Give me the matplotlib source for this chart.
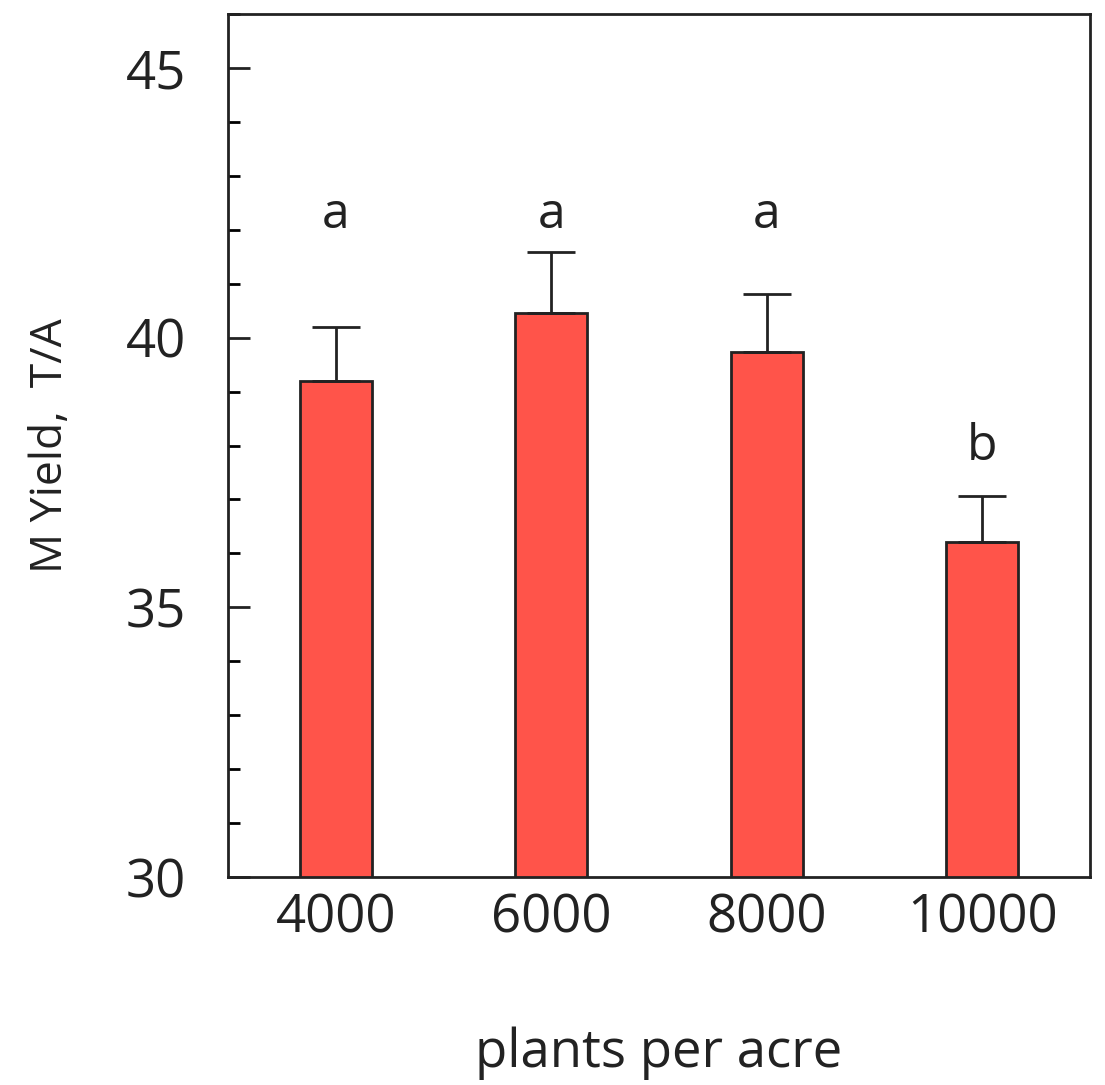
import matplotlib
matplotlib.use("Agg")
import matplotlib.pyplot as plt
import numpy as np
from matplotlib.ticker import MultipleLocator

categories = ["4000", "6000", "8000", "10000"]
means = [39.2, 40.46, 39.73, 36.21]
errors = [1.0, 1.13, 1.08, 0.85]
letters = ["a", "a", "a", "b"]
letter_y = [42.26, 42.26, 42.26, 37.97]

plt.rcParams['font.family'] = ['Open Sans', 'DejaVu Sans']

fig = plt.figure(figsize=(11.05, 10.85), dpi=100)
ax = fig.add_axes([0.2063, 0.1917, 0.7801, 0.7954])

x = np.arange(len(categories))
ax.bar(x, means, width=0.335, color="#FF544A", edgecolor="#222222",
       linewidth=2.0, zorder=2)
ax.errorbar(x, means, yerr=[np.zeros(len(errors)), errors], fmt="none",
            ecolor="#222222", elinewidth=2.0, capsize=17, capthick=2.0, zorder=3)
for xi, lab, ly in zip(x, letters, letter_y):
    ax.text(xi, ly, lab, ha="center", va="center", fontsize=36, color="#222222")

ax.set_xlim(-0.5, 3.5)
ax.set_ylim(30, 46)
ax.set_xticks(x)
ax.set_xticklabels(categories)
ax.set_yticks([30, 35, 40, 45])
ax.yaxis.set_minor_locator(MultipleLocator(1))
ax.tick_params(axis="x", length=0, pad=11, labelsize=38, colors="#222222")
ax.tick_params(axis="y", which="major", direction="in", length=16, width=2,
               pad=30, labelsize=38, colors="#222222")
ax.tick_params(axis="y", which="minor", direction="in", length=8.5, width=2)
for s in ax.spines.values():
    s.set_linewidth(2)
    s.set_color("#222222")

ax.set_xlabel("plants per acre", fontsize=38, labelpad=58, color="#222222")
ax.set_ylabel("M Yield,  T/A", fontsize=32, labelpad=38, color="#222222")

fig.savefig("out.png", dpi=100, facecolor="white")
